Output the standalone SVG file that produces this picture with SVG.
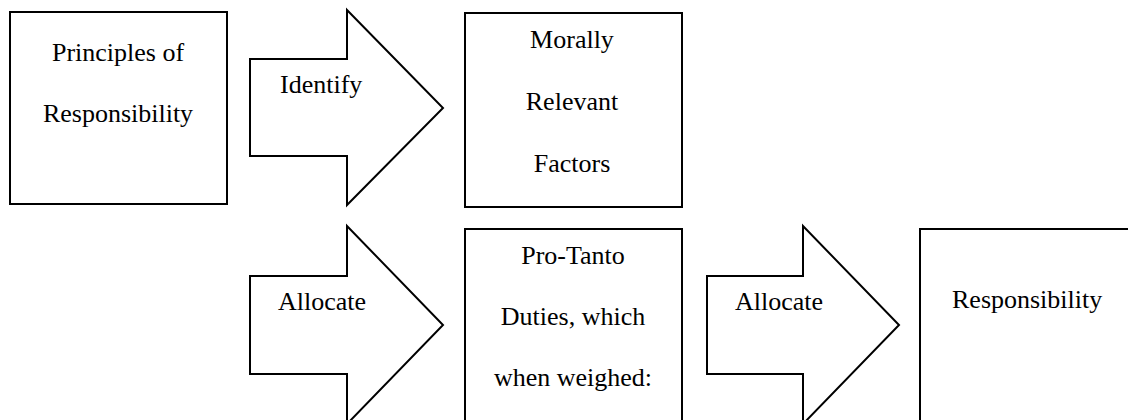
<svg xmlns="http://www.w3.org/2000/svg" width="1128" height="420" viewBox="0 0 1128 420">
<style>
.shape{fill:#fff;stroke:#000;stroke-width:2}
.c{text-anchor:middle}
</style>
<rect width="1128" height="420" fill="#fff"/>
<g font-family="Liberation Serif, Times New Roman, serif" font-size="26" fill="#000">
<g id="connectors">
<g id="arrow-identify">
<polygon class="shape" points="250,59 347,59 347,10 443,108 347,205 347,156 250,156"/>
<text x="280" y="93" fill="#000">Identify</text>
</g>
<g id="arrow-allocate-1">
<polygon class="shape" points="250,276 347,276 347,226 443,325 347,424 347,374 250,374"/>
<text x="278" y="310" fill="#000">Allocate</text>
</g>
<g id="arrow-allocate-2">
<polygon class="shape" points="707,276 803,276 803,226 899,325 803,424 803,374 707,374"/>
<text x="735" y="310" fill="#000">Allocate</text>
</g>
</g>
<g id="node-principles">
<rect class="shape" x="10" y="12" width="217" height="192"/>
<text class="c" x="118" y="61" fill="#000">Principles of</text>
<text class="c" x="118" y="122" fill="#000">Responsibility</text>
</g>
<g id="node-factors">
<rect class="shape" x="465" y="13" width="217" height="194"/>
<text class="c" x="572" y="48" fill="#000">Morally</text>
<text class="c" x="572" y="110" fill="#000">Relevant</text>
<text class="c" x="572" y="172" fill="#000">Factors</text>
</g>
<g id="node-duties">
<rect class="shape" x="465" y="229" width="217" height="200"/>
<text class="c" x="573" y="264" fill="#000">Pro-Tanto</text>
<text class="c" x="573" y="325" fill="#000">Duties, which</text>
<text class="c" x="573" y="386" fill="#000">when weighed:</text>
</g>
<g id="node-responsibility">
<rect class="shape" x="920" y="229" width="220" height="200"/>
<text x="952" y="308" fill="#000">Responsibility</text>
</g>
</g>
</svg>
